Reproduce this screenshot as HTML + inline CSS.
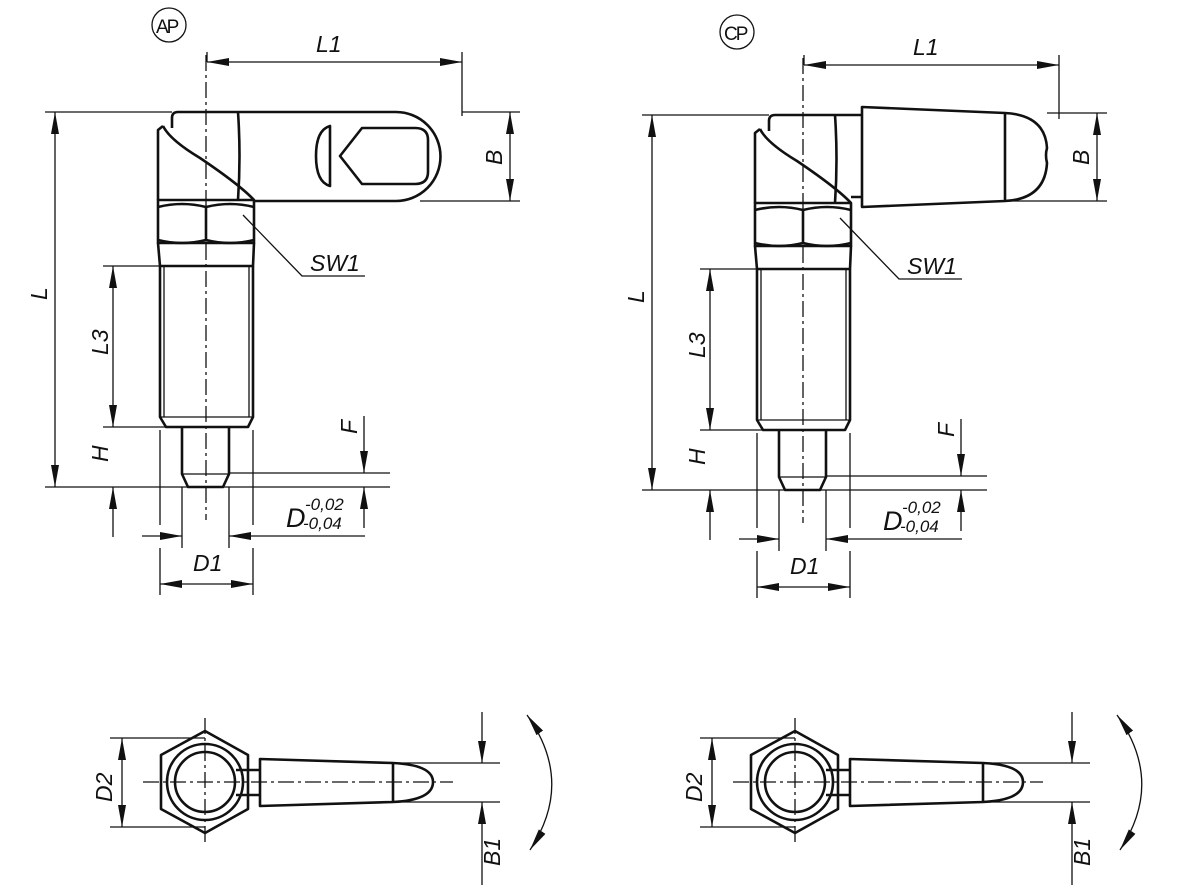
<!DOCTYPE html>
<html><head><meta charset="utf-8"><style>
html,body{margin:0;padding:0;background:#fff}
svg{display:block}
text{font-family:"Liberation Sans",sans-serif;font-style:italic;font-size:23px;fill:#111}
.o{stroke:#111;stroke-width:2.6;fill:none;stroke-linejoin:round}
.d{stroke:#111;stroke-width:1.3;fill:none}
.c{stroke:#111;stroke-width:1.3;fill:none;stroke-dasharray:16 4 3 4}
</style></head><body>
<svg width="1200" height="891" viewBox="0 0 1200 891" xmlns="http://www.w3.org/2000/svg">
<defs>
<marker id="a" viewBox="0 0 22 8" refX="22" refY="4" markerWidth="22" markerHeight="8" markerUnits="userSpaceOnUse" orient="auto-start-reverse"><path d="M0,0 L22,4 L0,8 z" fill="#111"/></marker>
<g id="side">
  <path class="c" d="M206,55 V520"/>
  <path class="d" d="M207,62 H462" marker-start="url(#a)" marker-end="url(#a)"/>
  <path class="d" d="M207,52 V62 M462,52 V116"/>
  <text x="316" y="52">L1</text>
  <path class="d" d="M45,112 H172"/>
  <path class="d" d="M45,487 H390"/>
  <path class="d" d="M229,473 H390"/>
  <path class="d" d="M55,112 V487" marker-start="url(#a)" marker-end="url(#a)"/>
  <text transform="translate(47,300) rotate(-90)">L</text>
  <path class="d" d="M103,266 H160"/>
  <path class="d" d="M103,427 H165"/>
  <path class="d" d="M113,266 V427" marker-start="url(#a)" marker-end="url(#a)"/>
  <text transform="translate(108,355) rotate(-90)">L3</text>
  <path class="d" d="M113,487 V537" marker-start="url(#a)"/>
  <text transform="translate(108,462) rotate(-90)">H</text>
  <path class="d" d="M364,416 V473" marker-end="url(#a)"/>
  <path class="d" d="M364,487 V528" marker-start="url(#a)"/>
  <text transform="translate(357,434) rotate(-90)">F</text>
  <path class="d" d="M160,430 V525 M182,487 V548 M229,487 V548 M253,430 V525"/>
  <path class="d" d="M142,536 H182" marker-end="url(#a)"/>
  <path class="d" d="M229,536 H365" marker-start="url(#a)"/>
  <text x="286" y="527" style="font-size:27px">D</text>
  <text x="305" y="510" style="font-size:17px">-0,02</text>
  <text x="303" y="529" style="font-size:17px">-0,04</text>
  <path class="d" d="M160,548 V595 M253,548 V595"/>
  <path class="d" d="M160,584 H253" marker-start="url(#a)" marker-end="url(#a)"/>
  <text x="193" y="571">D1</text>
  <path class="d" d="M243,215 L302,276 H365"/>
  <text x="310" y="271">SW1</text>
  <path class="o" d="M158,200 V130 L163,126"/>
  <path class="o" d="M172,128 V118 Q172,112 178,112 H238"/>
  <path class="o" d="M238,112 Q241,156 238,200"/>
  <path class="o" d="M163,126 Q170,140 200,158 Q240,185 254,200"/>
  <path class="o" d="M158,200 H254 V243 H158 Z"/>
  <path class="o" d="M158,207 Q182,201 206,207 Q230,201 254,207 M158,240 Q182,246 206,240 Q230,246 254,240 M206,207 V240"/>
  <path class="o" d="M158,243 L160,266 H253 L254,243"/>
  <path class="o" d="M160,266 V417 L166,427 H248 L253,417 V266"/>
  <path class="d" d="M164,266 V417 M249,266 V417 M160,417 H253"/>
  <path class="o" d="M182,427 V474 L188,487 H223 L229,474 V427"/>
  <path class="d" d="M182,474 H229"/>
</g>
<g id="top">
  <path class="c" d="M205,718 V846 M143,782 H453"/>
  <path class="d" d="M110,738 H205 M110,827 H205"/>
  <path class="d" d="M122,738 V827" marker-start="url(#a)" marker-end="url(#a)"/>
  <text transform="translate(112,802) rotate(-90)">D2</text>
  <polygon class="o" points="205,731 248,755 248,809 205,833 161,809 161,755"/>
  <circle class="o" cx="205" cy="782" r="38"/>
  <circle class="o" cx="205" cy="782" r="30"/>
  <path class="o" d="M236,770 H260 M236,795 H260"/>
  <path class="o" d="M260,759 L393,763 Q433,765 433,782 Q433,800 393,802 L260,806 Z M393,763 V802"/>
  <path class="d" d="M393,763 H500 M393,802 H500"/>
  <path class="d" d="M482,712 V763" marker-end="url(#a)"/>
  <path class="d" d="M482,802 V885" marker-start="url(#a)"/>
  <text transform="translate(500,866) rotate(-90)">B1</text>
  <path class="d" d="M527,715 Q575,782 530,850" marker-start="url(#a)" marker-end="url(#a)"/>
</g>
</defs>
<use href="#side"/>
<circle class="d" cx="169" cy="25" r="17"/>
<text x="156" y="33" style="font-style:normal;font-size:19px;letter-spacing:-2px">AP</text>
<path class="o" d="M238,112 H396 A44.5,44.5 0 0 1 396,201 H254"/>
<path class="d" d="M462,112 H520 M420,201 H520"/>
<path class="d" d="M510,112 V201" marker-start="url(#a)" marker-end="url(#a)"/>
<text transform="translate(502,165) rotate(-90)">B</text>
<path class="o" d="M330,126 V186 Q316,182 316,156 Q316,130 330,126 Z"/>
<path class="o" d="M362,128 H415 Q428,128 428,140 V172 Q428,184 415,184 H362 L340,156 Z"/>
<use href="#top"/>
<g transform="translate(597,3)">
  <use href="#side"/>
  <circle class="d" cx="140" cy="29" r="17"/>
  <text x="127" y="37" style="font-style:normal;font-size:19px;letter-spacing:-2px">CP</text>
  <path class="o" d="M238,112 H265 M254,194 H265"/>
  <path class="o" d="M265,104 L408,110 Q448,112 450,145 Q448,152 450,160 Q448,196 408,198 L265,204 Z M408,110 V198"/>
  <path class="d" d="M450,110 H510 M408,198 H510"/>
  <path class="d" d="M500,110 V198" marker-start="url(#a)" marker-end="url(#a)"/>
  <text transform="translate(492,162) rotate(-90)">B</text>
</g>
<g transform="translate(590,0)"><use href="#top"/></g>
</svg>
</body></html>
